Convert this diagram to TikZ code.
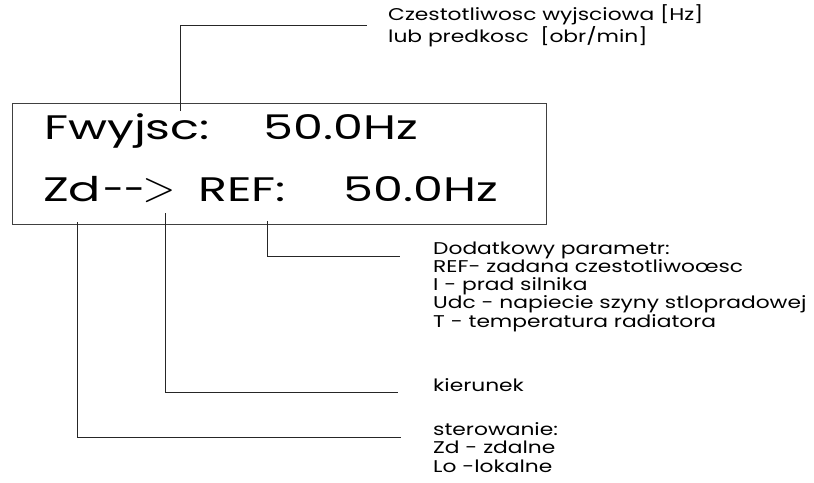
\documentclass[tikz,border=0pt]{standalone}
\usepackage{fontspec}
\setmainfont{Poppins}[FakeStretch=1.28]
\newfontfamily\lcdfont{Poppins}[FakeStretch=1.4]
\usetikzlibrary{positioning}
\tikzset{
  lcdtext/.style={font=\lcdfont\fontsize{34}{34}\selectfont, inner sep=0pt, anchor=base},
  notetext/.style={font=\fontsize{17}{18.2}\selectfont, inner sep=0pt, align=left, anchor=base west},
  leader/.style={line width=0.8pt, black!85},
}

\begin{document}
\begin{tikzpicture}[x=1pt, y=-1pt]
	\useasboundingbox (0,0) rectangle (814,482);
	% wyswietlacz
	\node[draw, line width=0.8pt, black!75, minimum width=534pt, minimum height=121pt, anchor=north west, inner sep=0pt] (lcd) at (12,103) {};
	\node[lcdtext] (fw) at (127,139) {Fwyjsc:};
	\node[lcdtext] (fwval) at (341,139) {50.0Hz};
	\node[lcdtext] (zd) at (72,201) {Zd};
	\node[lcdtext] (dash) at (124,201) {\scalebox{0.8}[1]{-{}-}};
	\node[lcdtext] (gt) at (159,201) {\scalebox{1.75}{$>$}};
	\node[lcdtext] (ref) at (242,201) {REF:};
	\node[lcdtext] (refval) at (421,201) {50.0Hz};
	% opisy
	\node[notetext] (freq) at (388,42) {Czestotliwosc wyjsciowa [Hz]\\lub predkosc\ \ [obr/min]};
	\node[notetext] (param) at (433,327) {Dodatkowy parametr:\\REF- zadana czestotliwoœsc\\I - prad silnika\\Udc - napiecie szyny stlopradowej\\T - temperatura radiatora};
	\node[notetext] (dir) at (433,391) {kierunek};
	\node[notetext] (ctrl) at (433,472) {sterowanie:\\Zd - zdalne\\Lo -lokalne};
	% linie odniesienia
	\coordinate (c-fw) at (180,111);
	\coordinate (c-zd) at (77,222);
	\coordinate (c-dir) at (165,213);
	\coordinate (c-ref) at (267,221);
	\coordinate (e-freq) at (367,25);
	\coordinate (e-param) at (400,256);
	\coordinate (e-dir) at (398,392);
	\coordinate (e-ctrl) at (401,437);
	\draw[leader] (c-fw) |- (e-freq);
	\draw[leader] (c-ref) |- (e-param);
	\draw[leader] (c-dir) |- (e-dir);
	\draw[leader] (c-zd) |- (e-ctrl);
\end{tikzpicture}
\end{document}
